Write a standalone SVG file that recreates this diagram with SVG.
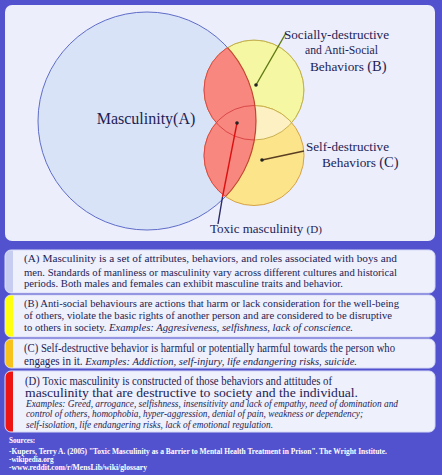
<svg xmlns="http://www.w3.org/2000/svg" width="442" height="475" viewBox="0 0 442 475">
<style>
.t{font-family:"Liberation Serif","Times New Roman",serif;fill:#1d1d55}
.p{font-size:11px}
.pl{font-size:11.5px}
.it{font-style:italic}
.src{font-family:"Liberation Serif","Times New Roman",serif;fill:#ffffff;font-size:7.2px;font-weight:bold}
.box{fill:#eef0fc;stroke:#d6daf6;stroke-width:1}
.ptr{stroke-width:1.4;fill:none}
</style>
<defs>
<clipPath id="clipA"><circle cx="147" cy="121" r="109"/></clipPath>
<clipPath id="clipB"><circle cx="254" cy="90" r="50"/></clipPath>
<clipPath id="clipBC"><circle cx="254" cy="90" r="50"/><circle cx="254" cy="155.5" r="50"/></clipPath>
</defs>
<rect x="0" y="0" width="442" height="475" fill="#5252cf"/>
<rect x="5" y="5" width="430" height="236" rx="7" fill="#eceefb"/>

<g id="nodeA">
<circle cx="147" cy="121" r="109" fill="#d8e3f8" stroke="#5f6dc8" stroke-width="1"/>
<text class="t" x="146" y="124" font-size="16" text-anchor="middle">Masculinity(A)</text>
</g>

<g id="nodeB">
<circle cx="254" cy="90" r="50" fill="#f6f7a2" stroke="#bdb652" stroke-width="1"/>
</g>
<g id="nodeC">
<circle cx="254" cy="155.5" r="50" fill="#fce48a" stroke="#d6a247" stroke-width="1"/>
<circle cx="254" cy="155.5" r="50" fill="#fdf1c4" clip-path="url(#clipB)"/>
<circle cx="254" cy="90" r="50" fill="none" stroke="#c9b050" stroke-width="1" clip-path="url(#clipBC)"/>
<circle cx="254" cy="155.5" r="50" fill="none" stroke="#c6b24a" stroke-width="1" clip-path="url(#clipB)"/>
</g>

<g id="nodeD">
<g clip-path="url(#clipA)">
<circle cx="254" cy="90" r="50" fill="#f8877f"/>
<circle cx="254" cy="155.5" r="50" fill="#f8877f"/>
<circle cx="254" cy="90" r="50" fill="none" stroke="#d94848" stroke-width="1"/>
<circle cx="254" cy="155.5" r="50" fill="none" stroke="#d94848" stroke-width="1"/>
</g>
<circle cx="147" cy="121" r="109" fill="none" stroke="#c2452c" stroke-width="1.2" clip-path="url(#clipBC)"/>
</g>

<g id="connectors">
<line class="ptr" x1="256" y1="85" x2="286" y2="33" stroke="#5e7a12"/>
<circle cx="256" cy="85" r="1.8" fill="#222"/>
<line class="ptr" x1="262" y1="160" x2="304" y2="151" stroke="#5a3e22"/>
<circle cx="262" cy="160" r="1.8" fill="#222"/>
<line class="ptr" x1="237" y1="123" x2="222.5" y2="197" stroke="#dd1010"/>
<line class="ptr" x1="222.5" y1="197" x2="218" y2="224" stroke="#2b2b66"/>
<circle cx="237" cy="123" r="1.8" fill="#222"/>
</g>

<g id="labels">
<text class="t" x="284" y="39" font-size="13.3" textLength="105" lengthAdjust="spacingAndGlyphs">Socially-destructive</text>
<text class="t" x="305" y="54" font-size="13.3" textLength="73" lengthAdjust="spacingAndGlyphs">and Anti-Social</text>
<text class="t" x="310" y="71" font-size="13.3">Behaviors <tspan font-size="14.5">(B)</tspan></text>
<text class="t" x="306" y="151" font-size="13.3" textLength="83" lengthAdjust="spacingAndGlyphs">Self-destructive</text>
<text class="t" x="322" y="167" font-size="13.3">Behaviors <tspan font-size="14.5">(C)</tspan></text>
<text class="t" x="210" y="233" font-size="13">Toxic masculinity <tspan font-size="11">(D)</tspan></text>
</g>

<g id="boxA">
<rect class="box" x="5" y="250" width="430" height="43" rx="6"/>
<path d="M11,250.5 h2 v42 h-2 a5.5,5.5 0 0 1 -5.5,-5.5 v-31 a5.5,5.5 0 0 1 5.5,-5.5 z" fill="#c6cdf1"/>
<text class="t p" x="24" y="262" textLength="373" lengthAdjust="spacingAndGlyphs">(A) Masculinity is  a  set  of  attributes, behaviors,  and roles associated  with  boys and</text>
<text class="t p" x="24" y="276" textLength="373" lengthAdjust="spacingAndGlyphs">men. Standards of manliness or masculinity vary across different cultures and historical</text>
<text class="t p" x="24" y="287" textLength="319" lengthAdjust="spacingAndGlyphs">periods. Both males and females can exhibit masculine traits and behavior.</text>
</g>

<g id="boxB">
<rect class="box" x="5" y="295" width="430" height="42" rx="6"/>
<path d="M11,295.5 h2 v41 h-2 a5.5,5.5 0 0 1 -5.5,-5.5 v-30 a5.5,5.5 0 0 1 5.5,-5.5 z" fill="#ffff10"/>
<text class="t p" x="24" y="307" textLength="375" lengthAdjust="spacingAndGlyphs">(B) Anti-social behaviours are actions that harm or lack consideration for the well-being</text>
<text class="t p" x="24" y="319" textLength="368" lengthAdjust="spacingAndGlyphs">of others, violate the basic rights of another person and are considered to be disruptive</text>
<text class="t p" x="24" y="331" textLength="329" lengthAdjust="spacingAndGlyphs">to others in society. <tspan class="it">Examples: Aggresiveness, selfishness, lack of conscience.</tspan></text>
</g>

<g id="boxC">
<rect class="box" x="5" y="339" width="430" height="29" rx="6"/>
<path d="M11,339.5 h2 v28 h-2 a5.5,5.5 0 0 1 -5.5,-5.5 v-17 a5.5,5.5 0 0 1 5.5,-5.5 z" fill="#f7c21c"/>
<text class="t pl" x="24" y="352" textLength="371" lengthAdjust="spacingAndGlyphs">(C) Self-destructive behavior is harmful or potentially harmful towards the person who</text>
<text class="t pl" x="24" y="365" textLength="333" lengthAdjust="spacingAndGlyphs">engages in it. <tspan class="it" font-size="11">Examples: Addiction, self-injury, life endangering risks, suicide.</tspan></text>
</g>

<g id="boxD">
<rect class="box" x="5" y="371" width="430" height="61" rx="6"/>
<path d="M11,371.5 h2 v60 h-2 a5.5,5.5 0 0 1 -5.5,-5.5 v-49 a5.5,5.5 0 0 1 5.5,-5.5 z" fill="#ee1414"/>
<text class="t pl" x="25" y="385" textLength="307" lengthAdjust="spacingAndGlyphs">(D) Toxic masculinity is constructed of those behaviors and attitudes of</text>
<text class="t pl" x="25" y="396.5" textLength="333" lengthAdjust="spacingAndGlyphs">masculinity that are destructive to society and the individual.</text>
<text class="t it" font-size="9.5" x="26" y="406.5" textLength="372" lengthAdjust="spacingAndGlyphs">Examples: Greed, arrogance, selfishness, insensitivity and lack of empathy, need of domination and</text>
<text class="t it" font-size="9.5" x="26" y="417" textLength="337" lengthAdjust="spacingAndGlyphs">control of others, homophobia, hyper-aggression, denial of pain, weakness or dependency;</text>
<text class="t it" font-size="9.5" x="26" y="428" textLength="247" lengthAdjust="spacingAndGlyphs">self-isolation, life endangering risks, lack of emotional regulation.</text>
</g>

<g id="sources">
<text class="src" x="9" y="443">Sources:</text>
<text class="src" x="9" y="453.5" textLength="378" lengthAdjust="spacingAndGlyphs">-Kupers, Terry A. (2005) "Toxic Masculinity as a Barrier to Mental Health Treatment in Prison". The Wright Institute.</text>
<text class="src" x="9" y="461.5">-wikipedia.org</text>
<text class="src" x="9" y="469.5" textLength="138" lengthAdjust="spacingAndGlyphs">-www.reddit.com/r/MensLib/wiki/glossary</text>
</g>
</svg>
